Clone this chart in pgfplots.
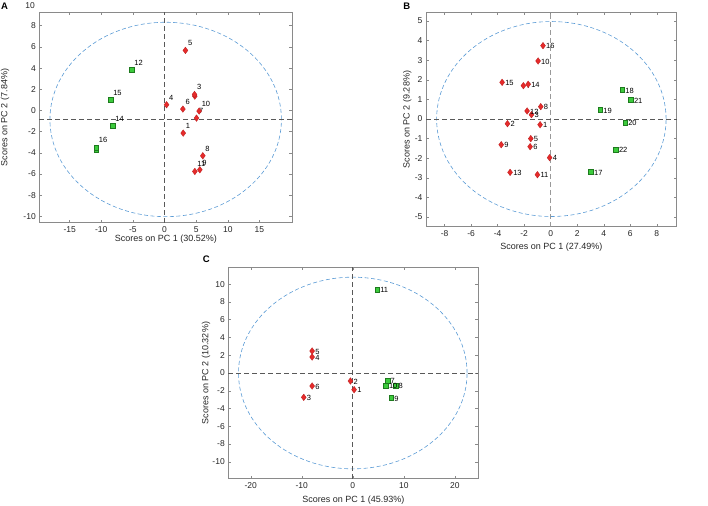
\documentclass[border=0pt]{standalone}
\usepackage{pgfplots}
\pgfplotsset{compat=1.18}
\usepackage{pgfplotstable}
\usepackage{fontspec}
\setmainfont{Liberation Sans}
\definecolor{mred}{HTML}{E62B2B}
\definecolor{mredd}{HTML}{B81C1C}
\definecolor{mgreen}{HTML}{3CCB3C}
\definecolor{mgreend}{HTML}{1E7A1E}
\definecolor{ell}{HTML}{5B9BD5}
\definecolor{axgray}{HTML}{8A8A8A}

\pgfplotstableread{
x y l
2.95 -2.14 1
4.74 1.51 3
0.32 0.54 4
3.30 5.67 5
2.90 0.13 6
5.05 -0.72 7
6.05 -4.28 8
5.58 -5.60 9
5.47 -0.06 10
4.79 -5.76 11
}\Ared
\pgfplotstableread{
x y
4.79 1.35
}\Aredx
\pgfplotstableread{
x y l
-5.2 3.84 12
-8.2 -1.45 14
-8.53 0.98 15
-10.8 -3.50 16
}\Agreen
\pgfplotstableread{
x y
-10.8 -3.68
}\Agreenx

\pgfplotstableread{
x y l
-0.80 -0.29 1
-3.26 -0.24 2
-1.45 0.22 3
-0.08 -1.97 4
-1.50 -1.00 5
-1.55 -1.41 6
-2.06 1.70 7
-0.75 0.63 8
-3.73 -1.31 9
-0.95 2.96 10
-1.00 -2.84 11
-1.78 0.41 12
-3.06 -2.72 13
-1.70 1.77 14
-3.66 1.87 15
-0.58 3.74 16
}\Bred
\pgfplotstableread{
x y l
3.03 -2.70 17
5.39 1.48 18
3.73 0.46 19
5.61 -0.19 20
6.04 0.97 21
4.91 -1.55 22
}\Bgreen

\pgfplotstableread{
x y l
0.26 -1.88 1
-0.46 -0.90 2
-9.61 -2.74 3
-7.97 1.80 4
-7.97 2.48 5
-7.97 -1.46 6
}\Cred
\pgfplotstableread{
x y l
6.80 -0.83 7
8.37 -1.39 8
7.52 -2.81 9
6.47 -1.39 10
4.77 9.38 11
}\Cgreen

\pgfplotsset{
  pca/.style={
    scale only axis,
    anchor=south west,
    axis line style={axgray, line width=0.6pt},
    tick align=inside,
    major tick length=3pt,
    tick style={axgray, line width=0.5pt},
    ticklabel style={font=\fontsize{8.5}{10}\selectfont, text=black!85},
    /pgf/number format/assume math mode=true,
    label style={font=\fontsize{9}{11}\selectfont, text=black!85},
    point meta=explicit symbolic,
    clip=false,
  },
  redm/.style={only marks, mark=diamond*, mark size=3.3pt,
    mark options={fill=mred, draw=mredd, line width=0.3pt}},
  greenm/.style={only marks, mark=square*, mark size=2.4pt,
    mark options={fill=mgreen, draw=mgreend, line width=0.4pt}},
  labA/.style={nodes near coords, every node near coord/.append style={
    font=\fontsize{7.5}{9}\selectfont, inner sep=0pt, anchor=south west, xshift=2.5pt, yshift=4.5pt}},
  labB/.style={nodes near coords, every node near coord/.append style={
    font=\fontsize{7.5}{9}\selectfont, inner sep=0pt, anchor=west, xshift=3pt, yshift=-0.5pt}},
}

\begin{document}
\begin{tikzpicture}
\path[use as bounding box] (0,0) rectangle (708pt,-505pt);

% ---------- A ----------
\begin{axis}[pca, at={(39.3pt,-222.7pt)}, width=253pt, height=210.4pt,
  xmin=-19.8, xmax=20.2, ymin=-10.6, ymax=9.27,
  xtick={-15,-10,-5,0,5,10,15}, ytick={-10,-8,...,8},
  xlabel={Scores on PC 1 (30.52\%)}, ylabel={Scores on PC 2 (7.84\%)},
  xlabel style={at={(axis description cs:0.5,-0.0774)}, anchor=center},
  ylabel style={at={(axis description cs:-0.1356,0.5)}, anchor=center}]
\draw[ell, dash pattern=on 4pt off 2.5pt, line width=0.6pt] (axis cs:0.18,-0.85) ellipse [x radius=18.3, y radius=9.18];
\draw[black!65, dash pattern=on 5pt off 3pt, line width=0.7pt] (axis cs:0,-10.6) -- (axis cs:0,9.27);
\draw[black!65, dash pattern=on 5pt off 3pt, line width=0.7pt] (axis cs:-19.8,-0.83) -- (axis cs:20.2,-0.83);
\addplot[greenm] table[x=x,y=y] \Agreenx;
\addplot[greenm, labA] table[x=x,y=y,meta=l] \Agreen;
\addplot[redm] table[x=x,y=y] \Aredx;
\addplot[redm, labA] table[x=x,y=y,meta=l] \Ared;
\end{axis}
\node[anchor=east, font=\fontsize{8.5}{10}\selectfont, text=black!85, inner sep=0pt] at (35pt,-5.5pt) {10};
\node[font=\bfseries\fontsize{9.5}{11}\selectfont] at (4.5pt,-5.8pt) {A};

% ---------- B ----------
\begin{axis}[pca, at={(426pt,-226.7pt)}, width=250.7pt, height=214.4pt,
  xmin=-9.4, xmax=9.5, ymin=-5.49, ymax=5.44,
  xtick={-8,-6,...,8}, ytick={-5,-4,...,5},
  xlabel={Scores on PC 1 (27.49\%)}, ylabel={Scores on PC 2 (9.28\%)},
  xlabel style={at={(axis description cs:0.5,-0.096)}, anchor=center},
  ylabel style={at={(axis description cs:-0.0746,0.5)}, anchor=center}]
\draw[ell, dash pattern=on 4pt off 2.5pt, line width=0.6pt] (axis cs:0.05,0) ellipse [x radius=8.65, y radius=4.97];
\draw[black!40, dash pattern=on 5pt off 3pt, line width=1.2pt] (axis cs:0,-5.49) -- (axis cs:0,5.44);
\draw[black!65, dash pattern=on 5pt off 3pt, line width=0.7pt] (axis cs:-9.4,0) -- (axis cs:9.5,0);
\addplot[redm, labB] table[x=x,y=y,meta=l] \Bred;
\addplot[greenm, labB] table[x=x,y=y,meta=l] \Bgreen;
\end{axis}
\node[font=\bfseries\fontsize{9.5}{11}\selectfont] at (406.7pt,-6pt) {B};

% ---------- C ----------
\begin{axis}[pca, at={(228.3pt,-478.7pt)}, width=250pt, height=211.4pt,
  xmin=-24.4, xmax=24.6, ymin=-11.9, ymax=11.9,
  xtick={-20,-10,0,10,20}, ytick={-10,-8,...,10},
  xlabel={Scores on PC 1 (45.93\%)}, ylabel={Scores on PC 2 (10.32\%)},
  xlabel style={at={(axis description cs:0.5,-0.1008)}, anchor=center},
  ylabel style={at={(axis description cs:-0.0892,0.5)}, anchor=center}]
\draw[ell, dash pattern=on 4pt off 2.5pt, line width=0.6pt] (axis cs:0,0) ellipse [x radius=22.4, y radius=10.79];
\draw[black!65, dash pattern=on 5pt off 3pt, line width=0.7pt] (axis cs:0,-11.9) -- (axis cs:0,11.9);
\draw[black!65, dash pattern=on 5pt off 3pt, line width=0.7pt] (axis cs:-24.4,0) -- (axis cs:24.6,0);
\addplot[redm, labB] table[x=x,y=y,meta=l] \Cred;
\addplot[greenm, labB] table[x=x,y=y,meta=l] \Cgreen;
\end{axis}
\node[font=\bfseries\fontsize{9.5}{11}\selectfont] at (206.3pt,-259.7pt) {C};
\end{tikzpicture}
\end{document}
